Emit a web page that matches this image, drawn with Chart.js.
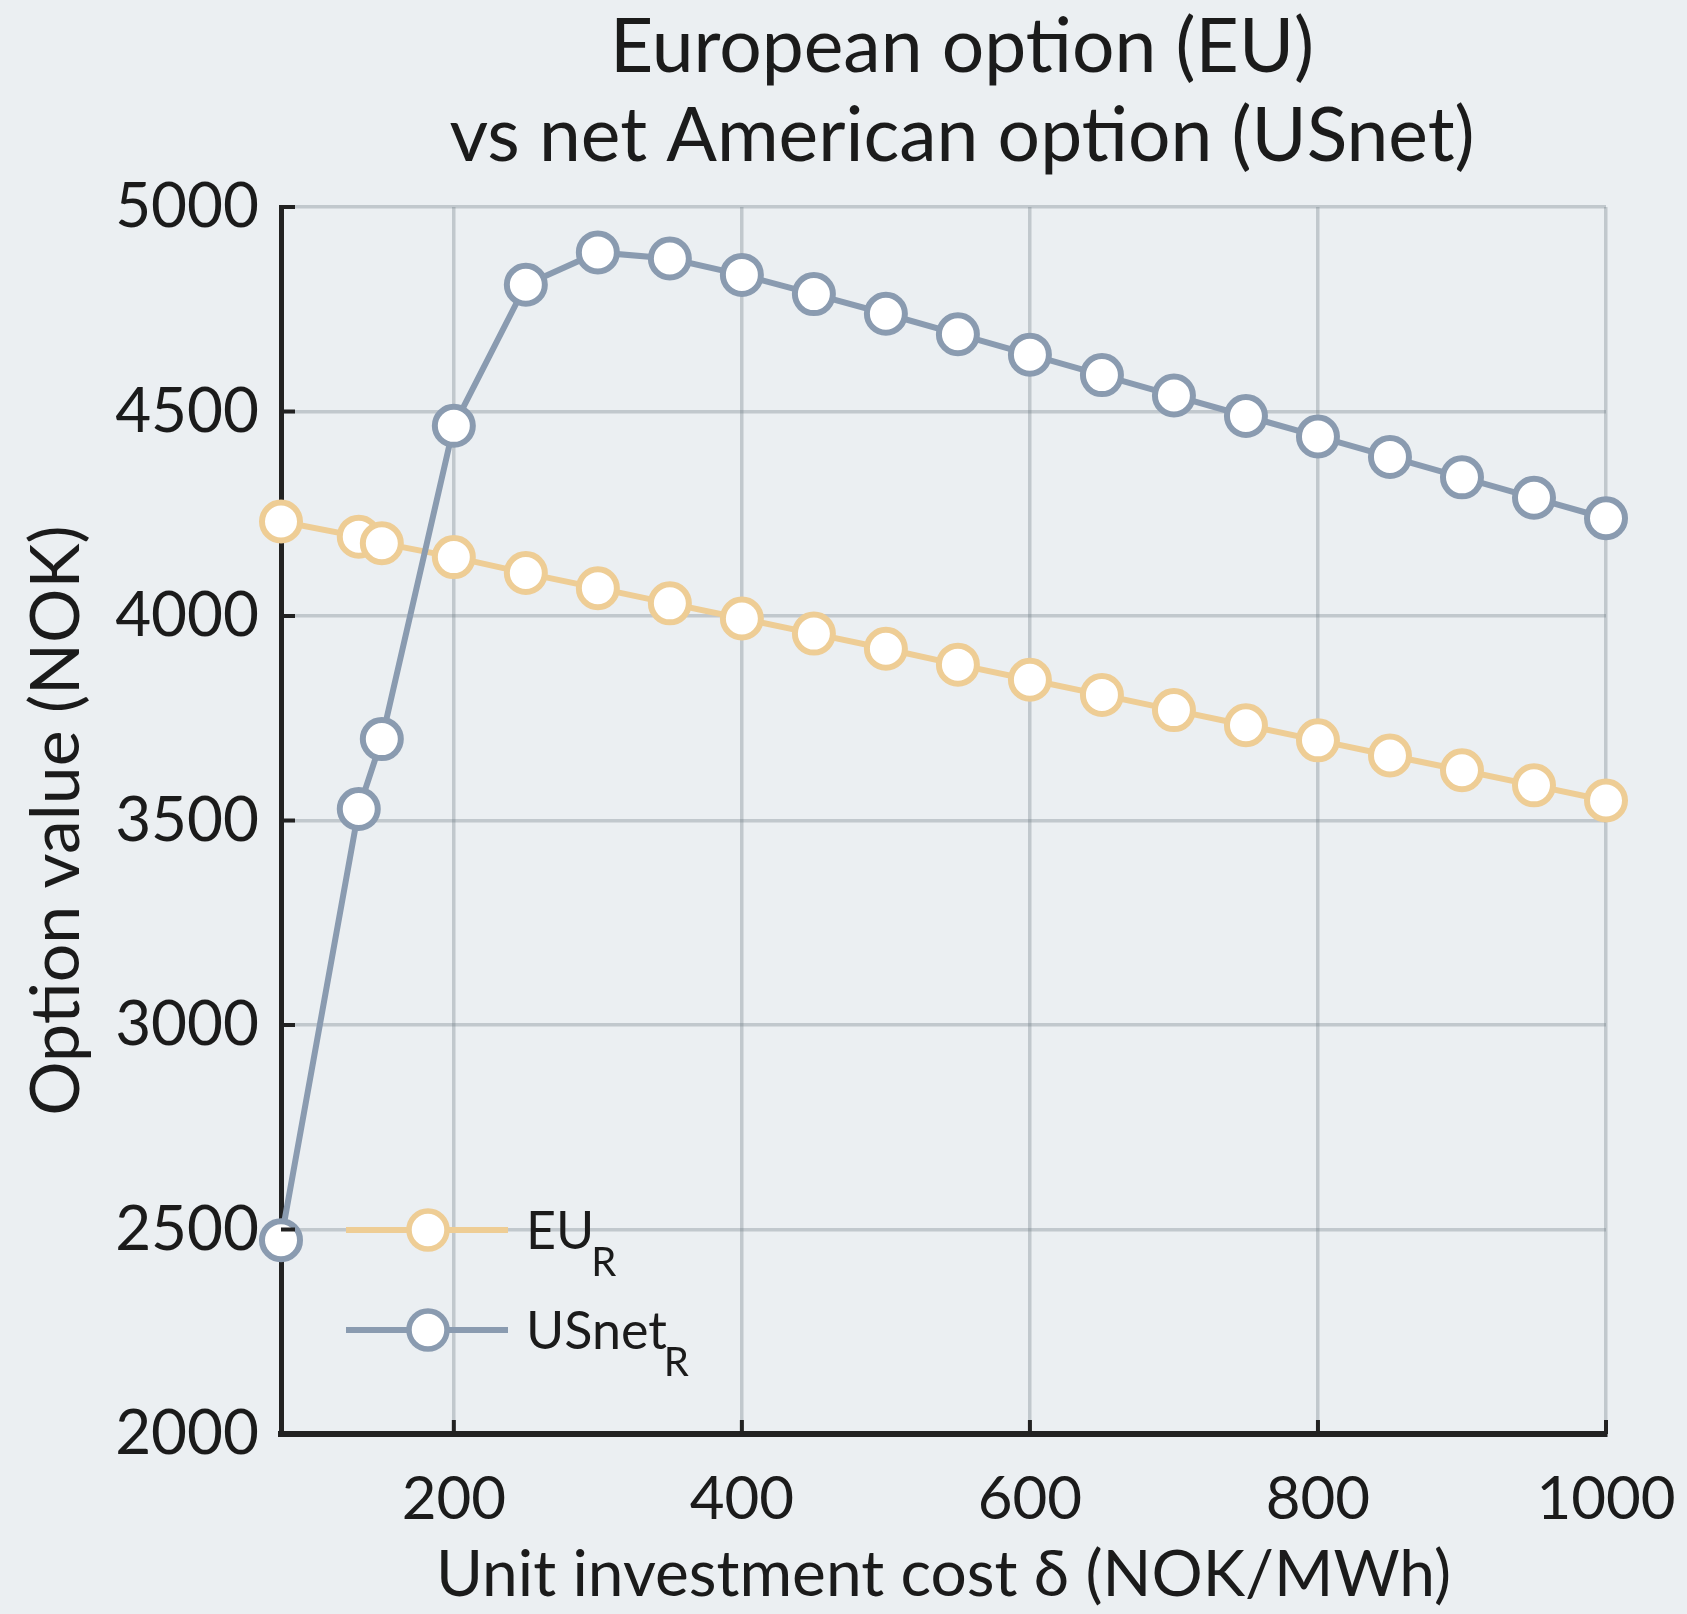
<!DOCTYPE html>
<html>
<head>
<meta charset="utf-8">
<script src="https://cdn.jsdelivr.net/npm/chart.js@4"></script>
<style>
  body { margin: 0; background: #ebeff2; }
  #wrap { width: 1687px; height: 1614px; }
</style>
</head>
<body>
<div id="wrap"><canvas id="optChart" width="1687" height="1614"></canvas></div>
<script>
// investment cost (NOK/MWh)
const cost = [80, 134, 150, 200, 250, 300, 350, 400, 450, 500, 550, 600, 650, 700, 750, 800, 850, 900, 950, 1000];

const eu_values = [4231, 4194, 4178, 4144, 4105, 4068, 4031, 3994, 3957, 3920, 3881, 3844, 3807, 3770, 3733, 3696, 3659, 3623, 3586, 3549];
const usnet_values = [2474, 3528, 3699, 4465, 4810, 4889, 4874, 4834, 4787, 4739, 4689, 4639, 4589, 4539, 4489, 4439, 4389, 4339, 4289, 4239];

const x_ticks = [200, 400, 600, 800, 1000];
const title_lines = ['European option (EU)', 'vs net American option (USnet)'];

const col_eu = '#eecd95';
const col_us = '#8a9bb0';
const font_family = 'Lato, "Noto Sans", sans-serif';
const txt_col = '#1b1b1b';

const bgPlugin = {
    id: 'bg',
    beforeDraw(chart) {
        let ctx = chart.ctx;
        ctx.save();
        ctx.fillStyle = '#ebeff2';
        ctx.fillRect(0, 0, chart.width, chart.height);
        ctx.restore();
    }
};

// inner tick marks + title + legend
const decoPlugin = {
    id: 'deco',
    afterDraw(chart) {
        let ctx = chart.ctx;
        let xs = chart.scales.x, ys = chart.scales.y;
        let area = chart.chartArea;
        ctx.save();
        ctx.strokeStyle = '#222';
        ctx.lineWidth = 4;
        ys.ticks.forEach(t => {
            let y = ys.getPixelForValue(t.value);
            ctx.beginPath(); ctx.moveTo(area.left, y); ctx.lineTo(area.left + 14, y); ctx.stroke();
        });
        xs.ticks.forEach(t => {
            let x = xs.getPixelForValue(t.value);
            ctx.beginPath(); ctx.moveTo(x, area.bottom); ctx.lineTo(x, area.bottom - 14); ctx.stroke();
        });

        // title
        ctx.fillStyle = txt_col;
        ctx.font = '75px ' + font_family;
        ctx.textAlign = 'center';
        ctx.textBaseline = 'middle';
        ctx.fillText(title_lines[0], 962, 48);
        ctx.fillText(title_lines[1], 962, 137);

        // legend
        let items = [
            {name: 'EU', color: col_eu, y: 1230},
            {name: 'USnet', color: col_us, y: 1330}
        ];
        items.forEach(it => {
            ctx.strokeStyle = it.color;
            ctx.lineWidth = 6;
            ctx.beginPath(); ctx.moveTo(346, it.y); ctx.lineTo(508, it.y); ctx.stroke();
            ctx.beginPath(); ctx.arc(428, it.y, 19, 0, Math.PI * 2);
            ctx.fillStyle = '#fff'; ctx.fill();
            ctx.lineWidth = 5.5; ctx.stroke();
            ctx.fillStyle = txt_col;
            ctx.textAlign = 'left';
            ctx.textBaseline = 'alphabetic';
            ctx.font = '52px ' + font_family;
            ctx.fillText(it.name, 526, it.y + 19);
            let w = ctx.measureText(it.name).width;
            ctx.font = '40px ' + font_family;
            ctx.fillText('R', 526 + w - 3, it.y + 46);
        });
        ctx.restore();
    }
};

let data_opt = {
    labels: cost,
    datasets: [
        {
            label: 'EU',
            data: cost.map((c, i) => ({x: c, y: eu_values[i]})),
            borderColor: col_eu,
            backgroundColor: '#fff',
            pointBackgroundColor: '#fff',
            pointBorderColor: col_eu,
            borderWidth: 6,
            pointRadius: 19,
            pointBorderWidth: 6,
            tension: 0,
            clip: false,
            order: 2
        },
        {
            label: 'USnet',
            data: cost.map((c, i) => ({x: c, y: usnet_values[i]})),
            borderColor: col_us,
            backgroundColor: '#fff',
            pointBackgroundColor: '#fff',
            pointBorderColor: col_us,
            borderWidth: 6,
            pointRadius: 19,
            pointBorderWidth: 6,
            tension: 0,
            clip: false,
            order: 1
        }
    ]
};

let config_opt = {
    type: 'line',
    data: data_opt,
    options: {
        responsive: false,
        animation: false,
        layout: {
            padding: {left: 0, right: 81, top: 207, bottom: 0}
        },
        plugins: {
            legend: {display: false},
            tooltip: {enabled: false},
            title: {display: false}
        },
        scales: {
            x: {
                type: 'linear',
                min: 80,
                max: 1000,
                afterBuildTicks: (scale) => { scale.ticks = x_ticks.map(v => ({value: v})); },
                afterFit: (scale) => { scale.height = 180; scale.paddingLeft = 0; scale.paddingRight = 0; },
                grid: {color: 'rgba(110,120,130,0.33)', lineWidth: 3.5, drawTicks: false},
                border: {display: true, color: '#222', width: 6},
                ticks: {color: txt_col, font: {family: font_family, size: 60}, padding: 30, maxRotation: 0,
                    callback: (v) => String(v)},
                title: {
                    display: true,
                    text: 'Unit investment cost δ (NOK/MWh)',
                    color: txt_col,
                    font: {family: font_family, size: 64},
                    padding: {top: 16, bottom: 0}
                }
            },
            y: {
                min: 2000,
                max: 5000,
                afterFit: (scale) => { scale.width = 281; scale.paddingTop = 0; scale.paddingBottom = 0; },
                grid: {color: 'rgba(110,120,130,0.33)', lineWidth: 3.5, drawTicks: false},
                border: {display: true, color: '#222', width: 5},
                ticks: {stepSize: 500, color: txt_col, font: {family: font_family, size: 62}, padding: 22,
                    callback: (v) => String(v)},
                title: {
                    display: true,
                    text: 'Option value (NOK)',
                    color: txt_col,
                    font: {family: font_family, size: 68},
                    padding: {top: 16, bottom: 0}
                }
            }
        }
    },
    plugins: [bgPlugin, decoPlugin]
};

new Chart(document.querySelector('#optChart').getContext('2d'), config_opt);
</script>
</body>
</html>
